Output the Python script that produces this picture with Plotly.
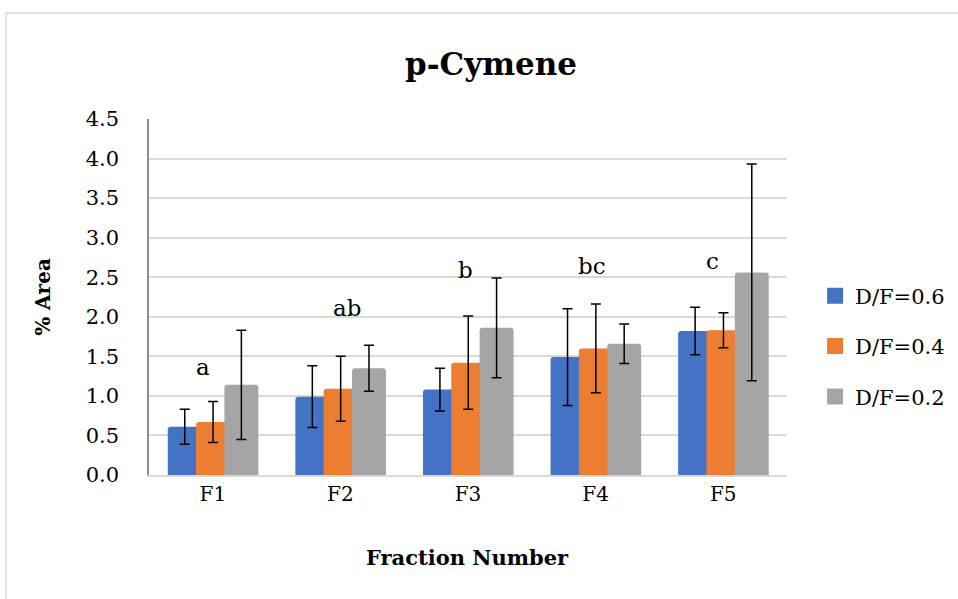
import plotly.graph_objects as go

# Fractions and D/F ratios
fractions = ["F1", "F2", "F3", "F4", "F5"]
series_names = ["D/F=0.6", "D/F=0.4", "D/F=0.2"]

area_df06 = [0.61, 0.99, 1.08, 1.49, 1.82]
err_df06 = [0.22, 0.39, 0.27, 0.61, 0.30]
area_df04 = [0.67, 1.09, 1.42, 1.60, 1.83]
err_df04 = [0.26, 0.41, 0.59, 0.56, 0.22]
area_df02 = [1.14, 1.35, 1.86, 1.66, 2.56]
err_df02 = [0.69, 0.29, 0.63, 0.25, 1.37]

# Significance letters above each fraction
letters = ["a", "ab", "b", "bc", "c"]
letter_y = [1.24, 1.98, 2.47, 2.51, 2.58]
letter_dx = [-0.077, 0.052, -0.016, -0.028, -0.08]

y_ticks = [0.0, 0.5, 1.0, 1.5, 2.0, 2.5, 3.0, 3.5, 4.0, 4.5]

colors = ["#4472C4", "#ED7D31", "#A5A5A5"]
values = [area_df06, area_df04, area_df02]
errors = [err_df06, err_df04, err_df02]
offsets = [-0.353, -0.131, 0.091]
bar_w = 0.266

FONT = "DejaVu Serif"

fig = go.Figure()
for name, vals, errs, col, off in zip(series_names, values, errors, colors, offsets):
    fig.add_trace(go.Bar(
        x=fractions, y=vals, name=name,
        marker=dict(color=col, line=dict(width=0)),
        width=bar_w, offset=off,
        error_y=dict(type="data", array=errs, visible=True,
                     color="black", thickness=1.5, width=5),
        showlegend=False,
    ))

# Legend entries with larger square swatches
for name, col in zip(series_names, colors):
    fig.add_trace(go.Scatter(
        x=[None], y=[None], mode="markers", name=name,
        marker=dict(symbol="square", size=21, color=col),
        legendgroup=name, showlegend=True,
    ))

for i, (txt, yv, dx) in enumerate(zip(letters, letter_y, letter_dx)):
    fig.add_annotation(x=i + dx, y=yv, text=txt, showarrow=False,
                       xref="x", yref="y", yanchor="bottom", yshift=-5,
                       font=dict(family=FONT, size=23, color="black"))

# X axis title
fig.add_annotation(x=0.499, y=-0.2314, xref="paper", yref="paper",
                   text="<b>Fraction Number</b>", showarrow=False,
                   xanchor="center", yanchor="middle",
                   font=dict(family=FONT, size=21, color="black"))

# Light outer frame of the chart area
fig.add_shape(type="rect", xref="paper", yref="paper",
              x0=-0.2241, x1=1.6, y0=-0.6, y1=1.298,
              line=dict(color="#D9D9D9", width=1.5), layer="below")

fig.update_layout(
    width=958, height=599,
    margin=dict(l=149, r=171, t=119, b=124, autoexpand=False),
    paper_bgcolor="white", plot_bgcolor="white",
    barmode="overlay", barcornerradius=3,
    font=dict(family=FONT, color="black"),
    title=dict(text="<b>p-Cymene</b>", x=491 / 958, xref="container",
               xanchor="center", y=1 - 64 / 599, yanchor="middle",
               font=dict(family=FONT, size=31, color="black")),
    legend=dict(x=1.044, y=0.362, xanchor="left", yanchor="middle",
                font=dict(family=FONT, size=21, color="black"),
                tracegroupgap=20, bgcolor="rgba(0,0,0,0)"),
    xaxis=dict(
        type="category", range=[-0.5, 4.5],
        showgrid=False, showline=True, linecolor="#D9D9D9", linewidth=1.5,
        ticks="", tickfont=dict(family=FONT, size=20, color="black"),
        ticklabelstandoff=0,
    ),
    yaxis=dict(
        range=[0, 4.5], tickvals=y_ticks,
        ticktext=[f"{v:.1f}" for v in y_ticks],
        showgrid=True, gridcolor="#D9D9D9", gridwidth=1.5,
        showline=True, linecolor="#8C8C8C", linewidth=1.5,
        zeroline=False, ticks="",
        tickfont=dict(family=FONT, size=21, color="black"),
        ticklabelstandoff=24,
        title=dict(text="<b>% Area</b>", standoff=30,
                   font=dict(family=FONT, size=20, color="black")),
    ),
)

fig.write_html("out.html")
